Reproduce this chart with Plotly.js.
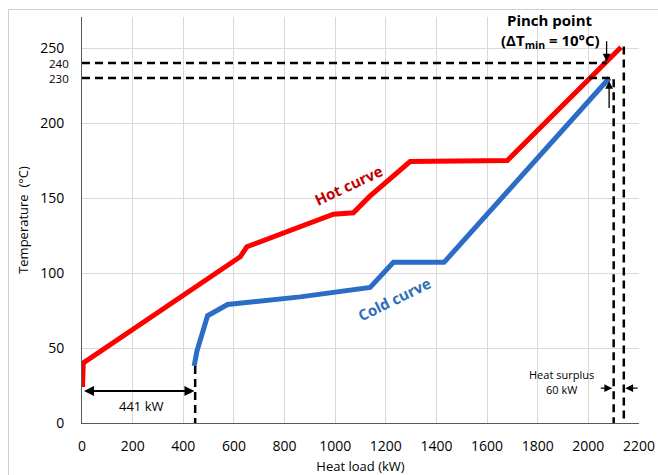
<!DOCTYPE html>
<html>
<head>
<meta charset="utf-8">
<script src="https://cdn.plot.ly/plotly-3.0.1.min.js"></script>
<style>
html,body{margin:0;padding:0;background:#fff;}
#wrap{position:relative;width:658px;height:475px;overflow:hidden;}
#chart{width:658px;height:475px;}
#frame{position:absolute;left:8px;top:9px;width:700px;height:500px;border-left:1.5px solid #CFCFCF;border-top:1.5px solid #CFCFCF;pointer-events:none;}
</style>
</head>
<body>
<div id="wrap"><div id="chart"></div><div id="frame"></div></div>
<script>
// Hot composite curve (heat load kW, temperature °C)
const hotLoad = [2, 5, 625, 651, 993, 1072, 1135, 1296, 1680, 2129];
const hotTemp = [24, 40, 110.8, 117.5, 139.2, 140.2, 150.9, 174.3, 175, 250.5];
// Cold composite curve
const coldLoad = [443, 454, 496, 575, 862, 1138, 1230, 1430, 2083];
const coldTemp = [38, 48, 71.5, 79, 84.1, 90.4, 107.1, 107.1, 230];
// Axis ticks
const xTicks = [0, 200, 400, 600, 800, 1000, 1200, 1400, 1600, 1800, 2000, 2200];
const yTicks = [0, 50, 100, 150, 200, 250];
const extraYTicks = [240, 230];
// Annotation values
const pinchHotT = 240, pinchColdT = 230;
const pinchHotLoad = 2072, pinchColdLoad = 2082;
const coldStartLoad = 447, coldStartT = 38;
const coldEndLoad = 2100, hotEndLoad = 2140, hotEndT = 251;
const minHeatLabel = "441 kW", surplusLabel = "60 kW";

const dashStyle = {color: '#000', width: 2.5, dash: '8px,5px'};
const traces = [
  {x: hotLoad, y: hotTemp, mode: 'lines', line: {color: '#FF0000', width: 5}, hoverinfo: 'skip'},
  {x: coldLoad, y: coldTemp, mode: 'lines', line: {color: '#2A6CC6', width: 5}, hoverinfo: 'skip'},
  {x: [0, pinchHotLoad], y: [pinchHotT, pinchHotT], mode: 'lines', line: dashStyle, hoverinfo: 'skip'},
  {x: [0, coldEndLoad, coldEndLoad], y: [pinchColdT, pinchColdT, 0], mode: 'lines', line: dashStyle, hoverinfo: 'skip'},
  {x: [hotEndLoad, hotEndLoad], y: [hotEndT, 0], mode: 'lines', line: dashStyle, hoverinfo: 'skip'},
  {x: [coldStartLoad, coldStartLoad], y: [coldStartT, 0], mode: 'lines', line: dashStyle, hoverinfo: 'skip'}
];

const F = "'Open Sans', 'Noto Sans', sans-serif";
const annotations = [
  {x: 1849, y: 268.4, xref: 'x', yref: 'y', text: '<b>Pinch point</b>', showarrow: false, font: {family: F, size: 15, color: '#000'}},
  {x: 1849, y: 254.4, xref: 'x', yref: 'y', text: '<b>(ΔT<sub>min</sub> = 10°C)</b>', showarrow: false, font: {family: F, size: 15, color: '#000'}},
  {x: 1053, y: 158.6, xref: 'x', yref: 'y', text: '<b>Hot curve</b>', showarrow: false, textangle: -25, font: {family: F, size: 15, color: '#C00000'}},
  {x: 1233, y: 82.6, xref: 'x', yref: 'y', text: '<b>Cold curve</b>', showarrow: false, textangle: -26, font: {family: F, size: 15, color: '#2E6DB8'}},
  {x: 234, y: 11.2, xref: 'x', yref: 'y', text: minHeatLabel, showarrow: false, font: {family: F, size: 13, color: '#000'}},
  {x: 1894, y: 32.5, xref: 'x', yref: 'y', text: 'Heat surplus', showarrow: false, borderpad: 0, font: {family: F, size: 11, color: '#000'}},
  {x: 1894, y: 22.5, xref: 'x', yref: 'y', text: surplusLabel, showarrow: false, borderpad: 0, font: {family: F, size: 11, color: '#000'}},
  // 240 / 230 tick labels
  {x: -0.021, y: extraYTicks[0], xref: 'paper', yref: 'y', xanchor: 'right', text: String(extraYTicks[0]), showarrow: false, borderpad: 0, font: {family: F, size: 11.5, color: '#000'}},
  {x: -0.021, y: extraYTicks[1], xref: 'paper', yref: 'y', xanchor: 'right', text: String(extraYTicks[1]), showarrow: false, borderpad: 0, font: {family: F, size: 11.5, color: '#000'}},
  // arrows
  {x: coldStartLoad - 3, y: 21.4, ax: 2, ay: 21.4, xref: 'x', yref: 'y', axref: 'x', ayref: 'y', text: '', showarrow: true, arrowhead: 2, startarrowhead: 2, arrowside: 'end+start', arrowwidth: 2, arrowsize: 1, arrowcolor: '#000'},
  {x: pinchHotLoad, y: pinchHotT + 1, ax: pinchHotLoad, ay: 255.5, xref: 'x', yref: 'y', axref: 'x', ayref: 'y', text: '', showarrow: true, arrowhead: 2, arrowwidth: 1.3, arrowsize: 1.2, arrowcolor: '#000'},
  {x: pinchColdLoad, y: pinchColdT - 2, ax: pinchColdLoad, ay: 209, xref: 'x', yref: 'y', axref: 'x', ayref: 'y', text: '', showarrow: true, arrowhead: 2, arrowwidth: 1.3, arrowsize: 1.2, arrowcolor: '#000'},
  {x: coldEndLoad - 6, y: 23.2, ax: 2043, ay: 23.2, xref: 'x', yref: 'y', axref: 'x', ayref: 'y', text: '', showarrow: true, arrowhead: 2, arrowwidth: 1.3, arrowsize: 1.2, arrowcolor: '#000'},
  {x: hotEndLoad + 6, y: 23.2, ax: 2200, ay: 23.2, xref: 'x', yref: 'y', axref: 'x', ayref: 'y', text: '', showarrow: true, arrowhead: 2, arrowwidth: 1.3, arrowsize: 1.2, arrowcolor: '#000'}
];

const layout = {
  width: 658, height: 475,
  margin: {l: 82, r: 19, t: 17, b: 52},
  paper_bgcolor: 'rgba(0,0,0,0)', plot_bgcolor: '#fff',
  showlegend: false,
  font: {family: F, size: 14, color: '#000'},
  xaxis: {
    range: [0, 2200], tickvals: xTicks, ticktext: xTicks.map(String),
    showgrid: true, gridcolor: '#D9D9D9', gridwidth: 1, zeroline: false,
    showline: true, linecolor: '#595959', linewidth: 1,
    ticks: '', ticklabelstandoff: 10,
    tickfont: {family: F, size: 14, color: '#000'},
    title: {text: 'Heat load (kW)', font: {family: F, size: 13, color: '#000'}, standoff: 17}
  },
  yaxis: {
    range: [0, 270.7], tickvals: yTicks, ticktext: yTicks.map(String),
    showgrid: true, gridcolor: '#D9D9D9', gridwidth: 1, zeroline: false,
    showline: true, linecolor: '#595959', linewidth: 1,
    ticks: '', ticklabelstandoff: 14,
    tickfont: {family: F, size: 14, color: '#000'},
    title: {text: 'Temperature  (°C)', font: {family: F, size: 13, color: '#000'}, standoff: 8}
  },
  annotations: annotations
};

Plotly.newPlot('chart', traces, layout, {displayModeBar: false, staticPlot: true});
</script>
</body>
</html>
